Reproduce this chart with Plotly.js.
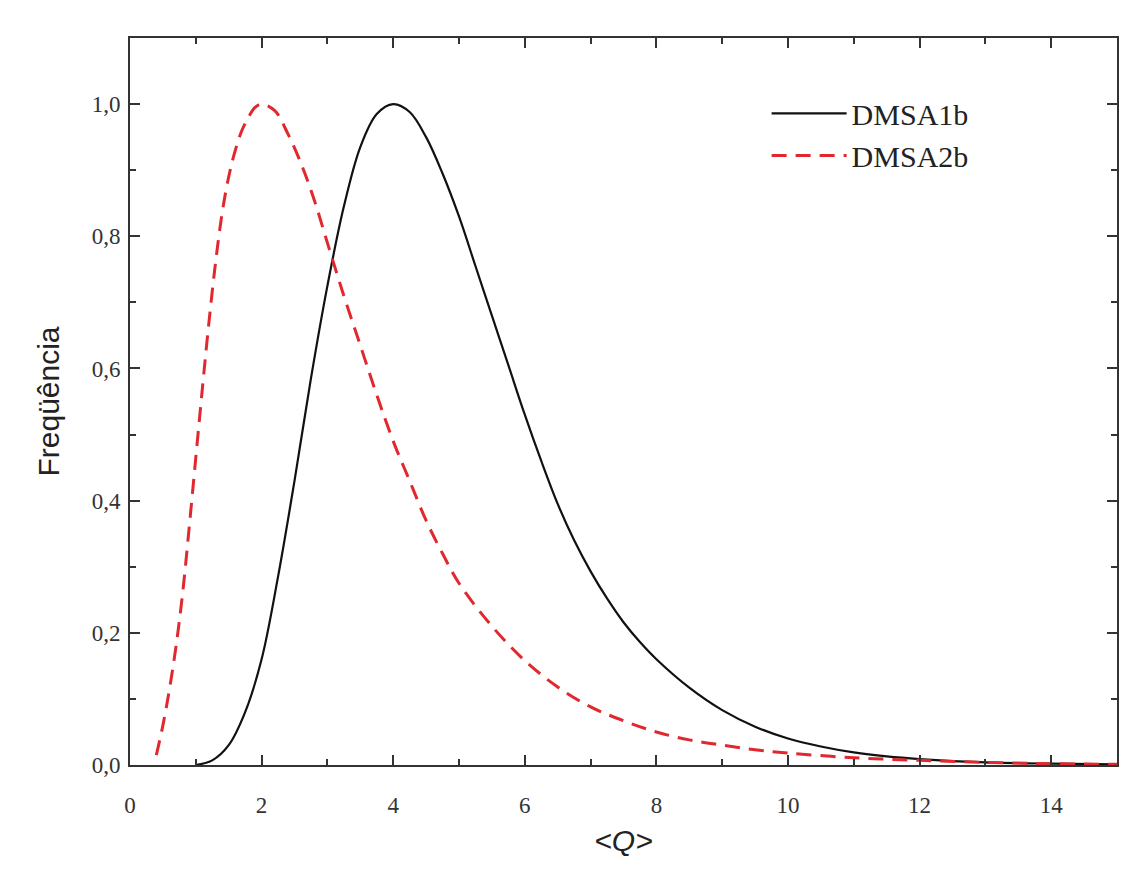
<!DOCTYPE html>
<html>
<head>
<meta charset="utf-8">
<script src="https://cdn.plot.ly/plotly-3.0.1.min.js"></script>
<style>html,body{margin:0;padding:0;background:#fff;}#chart{width:1141px;height:872px;}</style>
</head>
<body>
<div id="chart"></div>
<script>
var seriesNames = ["DMSA1b", "DMSA2b"];
// DMSA1b (solid black)
var x1 = [1.0,1.25,1.5,1.75,2.0,2.25,2.5,2.75,3.0,3.25,3.5,3.75,4.0,4.25,4.5,4.75,5.0,5.25,5.5,5.75,6.0,6.25,6.5,6.75,7.0,7.25,7.5,7.75,8.0,8.5,9.0,9.5,10.0,10.5,11.0,11.5,12.0,13.0,14.0,15.0];
var y1 = [0.0,0.007,0.03,0.08,0.16,0.285,0.43,0.585,0.725,0.845,0.935,0.985,1.0,0.988,0.95,0.895,0.83,0.755,0.68,0.605,0.53,0.46,0.395,0.34,0.293,0.252,0.216,0.186,0.16,0.117,0.083,0.058,0.04,0.028,0.019,0.013,0.009,0.004,0.002,0.001];
// DMSA2b (dashed red)
var x2 = [0.4,0.5,0.6,0.7,0.8,0.9,1.0,1.1,1.2,1.3,1.4,1.5,1.6,1.7,1.8,1.9,2.0,2.2,2.4,2.6,2.8,3.0,3.25,3.5,3.75,4.0,4.25,4.5,4.75,5.0,5.5,6.0,6.5,7.0,7.5,8.0,8.5,9.0,9.5,10.0,11.0,12.0,13.0,14.0,15.0];
var y2 = [0.015,0.06,0.115,0.18,0.26,0.36,0.465,0.57,0.67,0.76,0.835,0.89,0.93,0.96,0.98,0.995,1.0,0.99,0.955,0.91,0.855,0.79,0.71,0.635,0.56,0.49,0.43,0.37,0.32,0.275,0.21,0.158,0.118,0.088,0.067,0.05,0.038,0.03,0.023,0.018,0.011,0.007,0.004,0.002,0.001];

var xTitle = "<i>&lt;Q&gt;</i>";
var yTitle = "Freqüência";

var traces = [
  {x: x1, y: y1, name: seriesNames[0], type: "scatter", mode: "lines",
   line: {color: "#111111", width: 2.2, shape: "spline", smoothing: 1}},
  {x: x2, y: y2, name: seriesNames[1], type: "scatter", mode: "lines",
   line: {color: "#e0282e", width: 3, dash: "15px,9px", shape: "spline", smoothing: 1}}
];

var axisCommon = {
  showline: true, linecolor: "#333333", linewidth: 2, mirror: "ticks",
  ticks: "inside", ticklen: 10, tickwidth: 2, tickcolor: "#333333",
  showgrid: false, zeroline: false,
  tickfont: {family: "Liberation Serif, Times New Roman, serif", size: 23, color: "#333333"}
};

var layout = {
  width: 1141, height: 872,
  paper_bgcolor: "#ffffff", plot_bgcolor: "#ffffff",
  margin: {l: 130, r: 24, t: 38, b: 107},
  separators: ",.",
  showlegend: true,
  legend: {
    x: 0.645, y: 0.932, xanchor: "left", yanchor: "top",
    bgcolor: "rgba(0,0,0,0)", borderwidth: 0,
    font: {family: "Liberation Serif, Times New Roman, serif", size: 30, color: "#222222"},
    itemwidth: 75, tracegroupgap: 0
  },
  xaxis: Object.assign({}, axisCommon, {
    range: [0, 15], dtick: 2, tick0: 0, ticklabelstandoff: 18,
    minor: {ticks: "inside", dtick: 1, ticklen: 6, tickwidth: 2, tickcolor: "#333333"},
    title: {text: xTitle, font: {family: "Liberation Sans, Arial, sans-serif", size: 30, color: "#222222"}, standoff: 13}
  }),
  yaxis: Object.assign({}, axisCommon, {
    range: [0, 1.1], dtick: 0.2, tick0: 0, tickformat: ".1f", ticklabelstandoff: 3,
    minor: {ticks: "inside", dtick: 0.1, ticklen: 6, tickwidth: 2, tickcolor: "#333333"},
    title: {text: yTitle, font: {family: "Liberation Sans, Arial, sans-serif", size: 30, color: "#222222"}, standoff: 23}
  })
};

Plotly.newPlot("chart", traces, layout, {displayModeBar: false, staticPlot: true});
</script>
</body>
</html>
